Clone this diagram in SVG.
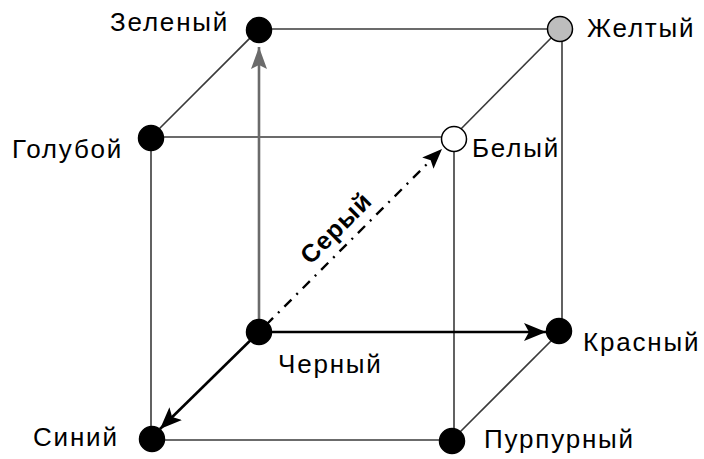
<svg xmlns="http://www.w3.org/2000/svg" width="704" height="459" viewBox="0 0 704 459">
<style>
.edge{stroke:#3a3a3a;stroke-width:1.6;fill:none}
.arr{stroke:#000;stroke-width:2.6;fill:none}
.garr{stroke:#6b6b6b;stroke-width:2.6;fill:none}
.dd{stroke:#000;stroke-width:2.4;fill:none;stroke-dasharray:10 7 2 7}
.lbl{font-family:"Liberation Sans",Arial,sans-serif;font-size:26px;letter-spacing:1.8px;fill:#000}
.bold{font-weight:bold;font-size:25px;letter-spacing:1px}
.dot{stroke:#000;stroke-width:1.5}
</style>
<defs>
<marker id="ah" markerUnits="userSpaceOnUse" markerWidth="24" markerHeight="20" refX="22" refY="9" orient="auto" viewBox="0 0 24 20">
<path d="M0,0 L22,9 L0,18 L5,9 z" fill="#000"/>
</marker>
<marker id="ahg" markerUnits="userSpaceOnUse" markerWidth="24" markerHeight="20" refX="22" refY="8" orient="auto" viewBox="0 0 24 20">
<path d="M0,0 L22,8 L0,16 L4,8 z" fill="#6b6b6b"/>
</marker>
<marker id="ahs" markerUnits="userSpaceOnUse" markerWidth="24" markerHeight="20" refX="20" refY="8" orient="auto" viewBox="0 0 24 20">
<path d="M0,0 L20,8 L0,16 L4,8 z" fill="#000"/>
</marker>
</defs>
<g id="connectors">
<line class="edge" x1="151" y1="137" x2="453" y2="137"/>
<line class="edge" x1="151" y1="137" x2="151" y2="440"/>
<line class="edge" x1="151" y1="440" x2="453" y2="440"/>
<line class="edge" x1="454" y1="137" x2="454" y2="440"/>
<line class="edge" x1="259" y1="29" x2="560" y2="29"/>
<line class="edge" x1="562" y1="29" x2="562" y2="332"/>
<line class="edge" x1="151" y1="137" x2="259" y2="29"/>
<line class="edge" x1="453" y1="137" x2="560" y2="29"/>
<line class="edge" x1="452" y1="440" x2="560" y2="332"/>
<line class="garr" x1="259" y1="332" x2="259" y2="47" marker-end="url(#ahg)"/>
<line class="arr" x1="259" y1="332" x2="546" y2="332" marker-end="url(#ah)"/>
<line class="arr" x1="259" y1="332" x2="160" y2="429" marker-end="url(#ah)"/>
<line class="dd" x1="266" y1="325" x2="442" y2="149" marker-end="url(#ahs)"/>
<text class="lbl bold" transform="translate(342,234) rotate(-45)" text-anchor="middle">Серый</text>
</g>
<g id="n-green"><circle class="dot" cx="259" cy="30" r="12.5" fill="#000"/><text class="lbl" x="110" y="31">Зеленый</text></g>
<g id="n-yellow"><circle class="dot" cx="560" cy="29" r="12.5" fill="#bdbdbd"/><text class="lbl" x="587" y="37">Желтый</text></g>
<g id="n-cyan"><circle class="dot" cx="151" cy="138" r="12.5" fill="#000"/><text class="lbl" x="12" y="158">Голубой</text></g>
<g id="n-white"><circle class="dot" cx="454" cy="139" r="12.5" fill="#fff"/><text class="lbl" x="472" y="157">Белый</text></g>
<g id="n-black"><circle class="dot" cx="259" cy="332" r="12.5" fill="#000"/><text class="lbl" x="278" y="373">Черный</text></g>
<g id="n-red"><circle class="dot" cx="559" cy="331" r="12.5" fill="#000"/><text class="lbl" x="583" y="351">Красный</text></g>
<g id="n-blue"><circle class="dot" cx="152" cy="439" r="12.5" fill="#000"/><text class="lbl" x="33" y="446">Синий</text></g>
<g id="n-magenta"><circle class="dot" cx="452" cy="441" r="12.5" fill="#000"/><text class="lbl" x="484" y="448">Пурпурный</text></g>
</svg>
